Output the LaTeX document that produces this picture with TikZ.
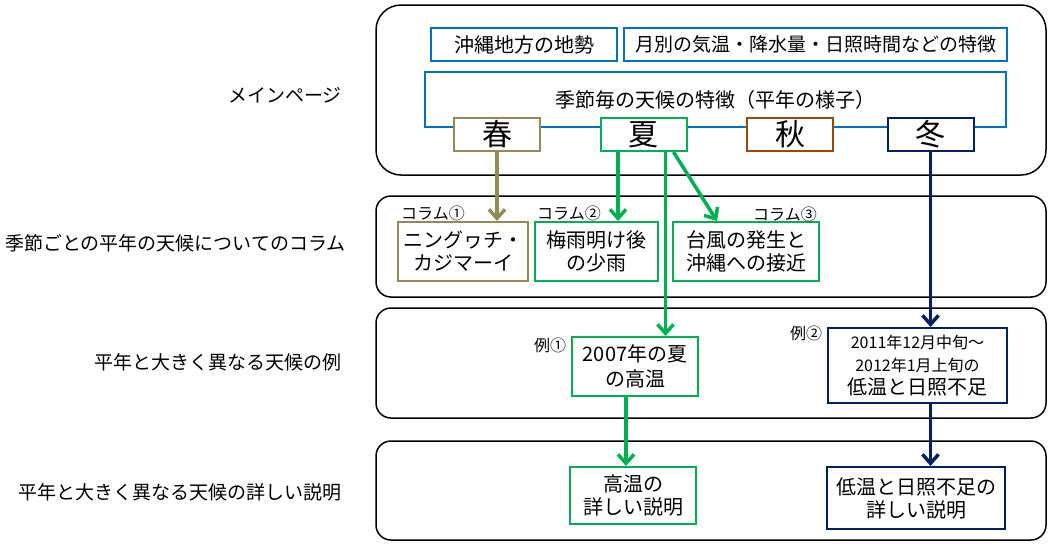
\documentclass[tikz,border=0pt]{standalone}
\usepackage{fontspec}
\setmainfont{Noto Sans CJK JP}
\usetikzlibrary{arrows.meta,positioning,calc}
\definecolor{boxblue}{RGB}{0,112,192}
\definecolor{sumgreen}{RGB}{0,176,80}
\definecolor{sprolive}{RGB}{148,138,84}
\definecolor{autbrown}{RGB}{152,72,7}
\definecolor{winnavy}{RGB}{0,32,96}

\begin{document}
\begin{tikzpicture}[x=1pt,y=-1pt,
  layer/.style={draw=black,line width=1.5pt,minimum width=670pt,rounded corners=15pt,inner sep=0pt},
  rowname/.style={anchor=east,inner sep=0pt,font=\fontsize{19}{22}\selectfont},
  topic/.style={draw=boxblue,line width=2pt,fill=white,minimum height=33pt,inner sep=0pt,font=\fontsize{20}{22}\selectfont},
  season/.style={line width=2pt,fill=white,minimum width=86pt,minimum height=33pt,inner sep=0pt,font=\fontsize{30}{32}\selectfont},
  item/.style={line width=2pt,fill=white,align=center,inner sep=0pt,font=\fontsize{20}{23}\selectfont},
  tag/.style={inner sep=0pt,font=\fontsize{16}{17}\selectfont},
  edge/.style={line width=3.5pt,-{Straight Barb[length=9pt,width=16pt]}}]
\useasboundingbox (0,0) rectangle (1055,550);

\node (mainrow) [layer,minimum height=170pt,rounded corners=25pt] at (711,90) {};
\node (colrow) [layer,minimum height=101pt] at (711,246.5) {};
\node (exrow) [layer,minimum height=110pt] at (711,363) {};
\node (detrow) [layer,minimum height=99pt] at (711,490.5) {};

\node (mainname) [rowname] at (342,95) {メインページ};
\node (colname) [rowname] at (346,243) {季節ごとの平年の天候についてのコラム};
\node (exname) [rowname] at (342,362) {平年と大きく異なる天候の例};
\node (detname) [rowname] at (342,492) {平年と大きく異なる天候の詳しい説明};

\node (terrain) [topic,minimum width=186pt] at (524,44.5) {沖縄地方の地勢};
\node (monthly) [topic,minimum width=383pt,font=\fontsize{19}{22}\selectfont] at (815.5,44.5) {月別の気温・降水量・日照時間などの特徴};
\node (seasons) [topic,minimum width=581pt,minimum height=55pt] at (715.5,99.5) {季節毎の天候の特徴（平年の様子）};

\node (spring) [season,draw=sprolive] at (497,134.5) {春};
\node (summer) [season,draw=sumgreen] at (643.5,134.5) {夏};
\node (autumn) [season,draw=autbrown] at (790,134.5) {秋};
\node (winter) [season,draw=winnavy] at (930.5,134.5) {冬};

\node (nigu) [item,draw=sprolive,minimum width=130pt,minimum height=59pt] at (463,251.5) {ニングヮチ・\\カジマーイ};
\node (tsuyu) [item,draw=sumgreen,minimum width=123pt,minimum height=59pt] at (596.5,251.5) {梅雨明け後\\の少雨};
\node (typhoon) [item,draw=sumgreen,minimum width=146pt,minimum height=59pt] at (746,251.5) {台風の発生と\\沖縄への接近};
\node (col1) [tag] at (433,213) {コラム①};
\node (col2) [tag] at (569,213) {コラム②};
\node (col3) [tag] at (785,214) {コラム③};

\node (ex1) [item,draw=sumgreen,minimum width=126pt,minimum height=59pt,font=\fontsize{20}{25}\selectfont] at (635,366.5) {2007年の夏\\の高温};
\node (ex2) [item,draw=winnavy,minimum width=179pt,minimum height=75pt] at (917.5,365.5) {{\fontsize{16}{19}\selectfont 2011年12月中旬～}\\{\fontsize{16}{19}\selectfont 2012年1月上旬の}\\低温と日照不足};
\node (ex1tag) [tag] at (550,345) {例①};
\node (ex2tag) [tag] at (806,333) {例②};

\node (det1) [item,draw=sumgreen,minimum width=126pt,minimum height=57pt] at (633,495.5) {高温の\\詳しい説明};
\node (det2) [item,draw=winnavy,minimum width=178pt,minimum height=62pt] at (916,498) {低温と日照不足の\\詳しい説明};

\draw [edge,sprolive] (spring.south) to (spring.south |- nigu.north);
\draw [edge,sumgreen] ([xshift=-25.5pt]summer.south) to ([xshift=-25.5pt]summer.south |- tsuyu.north);
\draw [edge,sumgreen] ([xshift=22pt]summer.south) to ([xshift=22pt]summer.south |- ex1.north);
\draw [edge,sumgreen] ([xshift=30pt]summer.south) to ([xshift=-29pt]typhoon.north);
\draw [edge,winnavy] (winter.south) to (winter.south |- ex2.north);
\draw [edge,sumgreen] ([xshift=-9pt]ex1.south) to ([xshift=-9pt]ex1.south |- det1.north);
\draw [edge,winnavy] (winter.south |- ex2.south) to (winter.south |- det2.north);
\end{tikzpicture}
\end{document}
